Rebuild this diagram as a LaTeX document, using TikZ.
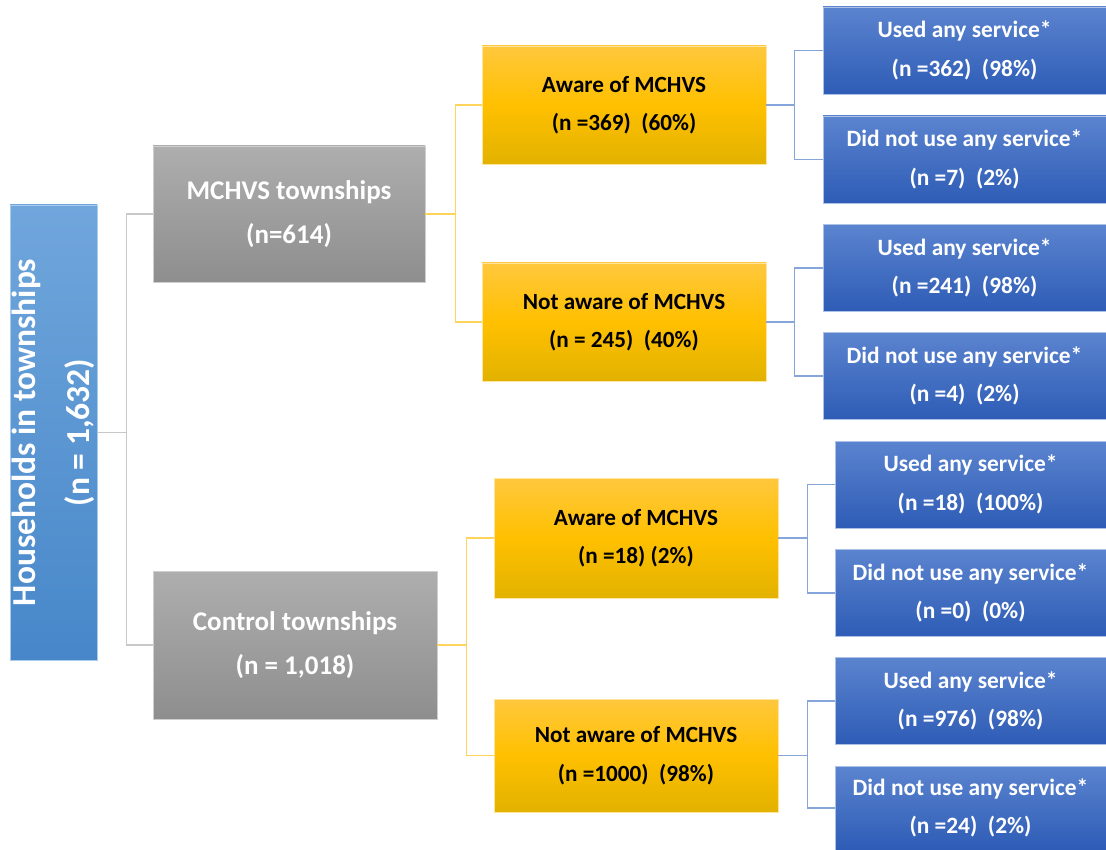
\documentclass[tikz,border=0pt]{standalone}
\usepackage{fontspec}
\setmainfont{Carlito}
\definecolor{rootA}{HTML}{70A6DC}
\definecolor{rootB}{HTML}{4787C9}
\definecolor{greyA}{HTML}{AEAEAE}
\definecolor{greyB}{HTML}{8E8E8E}
\definecolor{goldA}{HTML}{FFC83D}
\definecolor{goldM}{HTML}{FFC000}
\definecolor{goldB}{HTML}{E2B200}
\definecolor{blueA}{HTML}{5B84CF}
\definecolor{blueB}{HTML}{2E5CB6}
\definecolor{lineG}{HTML}{C8C8C8}
\definecolor{lineY}{HTML}{FFD45C}
\definecolor{lineB}{HTML}{86A5DA}

\begin{document}
\begin{tikzpicture}[x=1pt,y=-1pt,
  box/.style={inner sep=0pt,align=center,text=white},
  rootbox/.style={box,rotate=90,top color=rootA,bottom color=rootB,draw=rootA!60!white,
    minimum width=455pt,minimum height=87pt,font=\bfseries\fontsize{33.5}{54}\selectfont},
  catbox/.style={box,top color=greyA,bottom color=greyB,draw=greyA!60!white,
    minimum height=136pt,font=\bfseries\fontsize{27}{44}\selectfont},
  awarebox/.style={box,text=black,top color=goldA,bottom color=goldB,middle color=goldM,
    draw=goldA!50!white,minimum width=284pt,minimum height=118pt,font=\bfseries\fontsize{23.2}{38.5}\selectfont},
  svcbox/.style={box,top color=blueA,bottom color=blueB,draw=blueA!50!white,
    minimum height=87pt,font=\bfseries\fontsize{23.4}{38.5}\selectfont},
  greyline/.style={lineG,line width=1.2pt},
  goldline/.style={lineY,line width=1.2pt},
  blueline/.style={lineB,line width=1.2pt}]
  \useasboundingbox (0,0) rectangle (1106,850);
  % root and the two groups of townships
  \node[rootbox] (root) at (53.5,432.5) {Households in townships\\(n = 1,632)};
  \node[catbox,minimum width=272pt] (mchvs) at (289,214) {MCHVS townships\\(n=614)};
  \node[catbox,minimum width=284pt,minimum height=148pt] (ctrl) at (295,645) {Control townships\\(n = 1,018)};
  % awareness
  \node[awarebox] (awA) at (624,105) {Aware of MCHVS\\(n =369)\ \ (60\%)};
  \node[awarebox] (notA) at (624,322) {Not aware of MCHVS\\(n = 245)\ \ (40\%)};
  \node[awarebox,minimum height=120pt] (awC) at (636,538) {Aware of MCHVS\\(n =18) (2\%)};
  \node[awarebox,minimum height=113pt] (notC) at (636,755.5) {Not aware of MCHVS\\(n =1000)\ \ (98\%)};
  % service use
  \node[svcbox,minimum width=283pt] (useAA) at (964.5,50.5) {Used any service*\\(n =362)\ \ (98\%)};
  \node[svcbox,minimum width=283pt] (noAA) at (964.5,159.5) {Did not use any service*\\(n =7)\ \ (2\%)};
  \node[svcbox,minimum width=283pt] (useNA) at (964.5,268) {Used any service*\\(n =241)\ \ (98\%)};
  \node[svcbox,minimum width=283pt] (noNA) at (964.5,376) {Did not use any service*\\(n =4)\ \ (2\%)};
  \node[svcbox,minimum width=271pt] (useAC) at (970.5,484.5) {Used any service*\\(n =18)\ \ (100\%)};
  \node[svcbox,minimum width=271pt] (noAC) at (970.5,593) {Did not use any service*\\(n =0)\ \ (0\%)};
  \node[svcbox,minimum width=271pt] (useNC) at (970.5,701) {Used any service*\\(n =976)\ \ (98\%)};
  \node[svcbox,minimum width=271pt,minimum height=84pt] (noNC) at (970.5,808) {Did not use any service*\\(n =24)\ \ (2\%)};
  % elbow connectors
  \draw[greyline] (root.south) -- ++(29,0) coordinate (k0) |- (mchvs.west) (k0) |- (ctrl.west);
  \draw[goldline] (mchvs.east) -- ++(30,0) coordinate (k1) |- (awA.west) (k1) |- (notA.west);
  \draw[goldline] (ctrl.east) -- ++(29,0) coordinate (k2) |- (awC.west) (k2) |- (notC.west);
  \draw[blueline] (awA.east) -- ++(28,0) coordinate (k3) |- (useAA.west) (k3) |- (noAA.west);
  \draw[blueline] (notA.east) -- ++(28,0) coordinate (k4) |- (useNA.west) (k4) |- (noNA.west);
  \draw[blueline] (awC.east) -- ++(29,0) coordinate (k5) |- (useAC.west) (k5) |- (noAC.west);
  \draw[blueline] (notC.east) -- ++(29,0) coordinate (k6) |- (useNC.west) (k6) |- (noNC.west);
\end{tikzpicture}
\end{document}
